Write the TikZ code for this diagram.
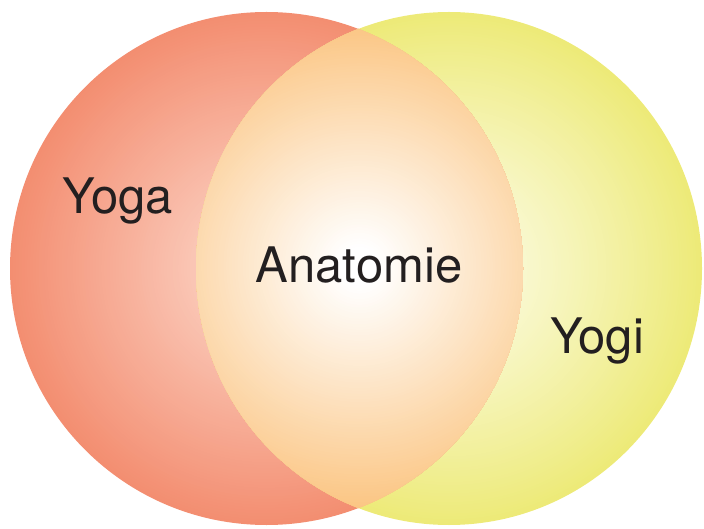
\documentclass[tikz,border=0pt]{standalone}
\usepackage{fontspec}
\setmainfont{TeX Gyre Heros}
\definecolor{txt}{HTML}{231F20}
\definecolor{lin}{HTML}{FDDCD0}
\definecolor{lout}{HTML}{F38E71}
\definecolor{rin}{HTML}{FCFCE8}
\definecolor{rout}{HTML}{EDEA78}
\definecolor{lensin}{HTML}{FFFFFF}
\definecolor{lensout}{HTML}{FBC480}
\tikzset{
  lbl/.style={anchor=base, inner sep=0pt, text=txt, font=\fontsize{49}{49}\selectfont}
}
\begin{document}
\begin{tikzpicture}[x=1pt,y=1pt]
\useasboundingbox (0,0) rectangle (704,528);
% left circle
\foreach \i in {0,...,89}{
  \pgfmathsetmacro\s{1-\i/90}
  \pgfmathsetmacro\p{100*\s}
  \fill[lout!\p!lin] (266.5,259.5) circle ({256.5*\s});
}
% right circle
\foreach \i in {0,...,89}{
  \pgfmathsetmacro\s{1-\i/90}
  \pgfmathsetmacro\p{100*(\s^1.2)}
  \fill[rout!\p!rin] (449,259.5) ellipse [x radius={253*\s}, y radius={256.5*\s}];
}
% lens
\begin{scope}
  \clip (266.5,259.5) circle (256.5);
  \clip (449,259.5) ellipse [x radius=253, y radius=256.5];
  \foreach \i in {0,...,89}{
    \pgfmathsetmacro\s{1-\i/90}
    \pgfmathsetmacro\p{max(0,100*(\s-0.08)/0.92)}
    \fill[lensout!\p!lensin] (359.5,262) circle ({250*\s});
  }
\end{scope}
\node[lbl] (yoga) at (118,314) {Yoga};
\node[lbl] (anat) at (359,245) {Anatomie};
\node[lbl] (yogi) at (597,174.5) {Yogi};
\end{tikzpicture}
\end{document}
